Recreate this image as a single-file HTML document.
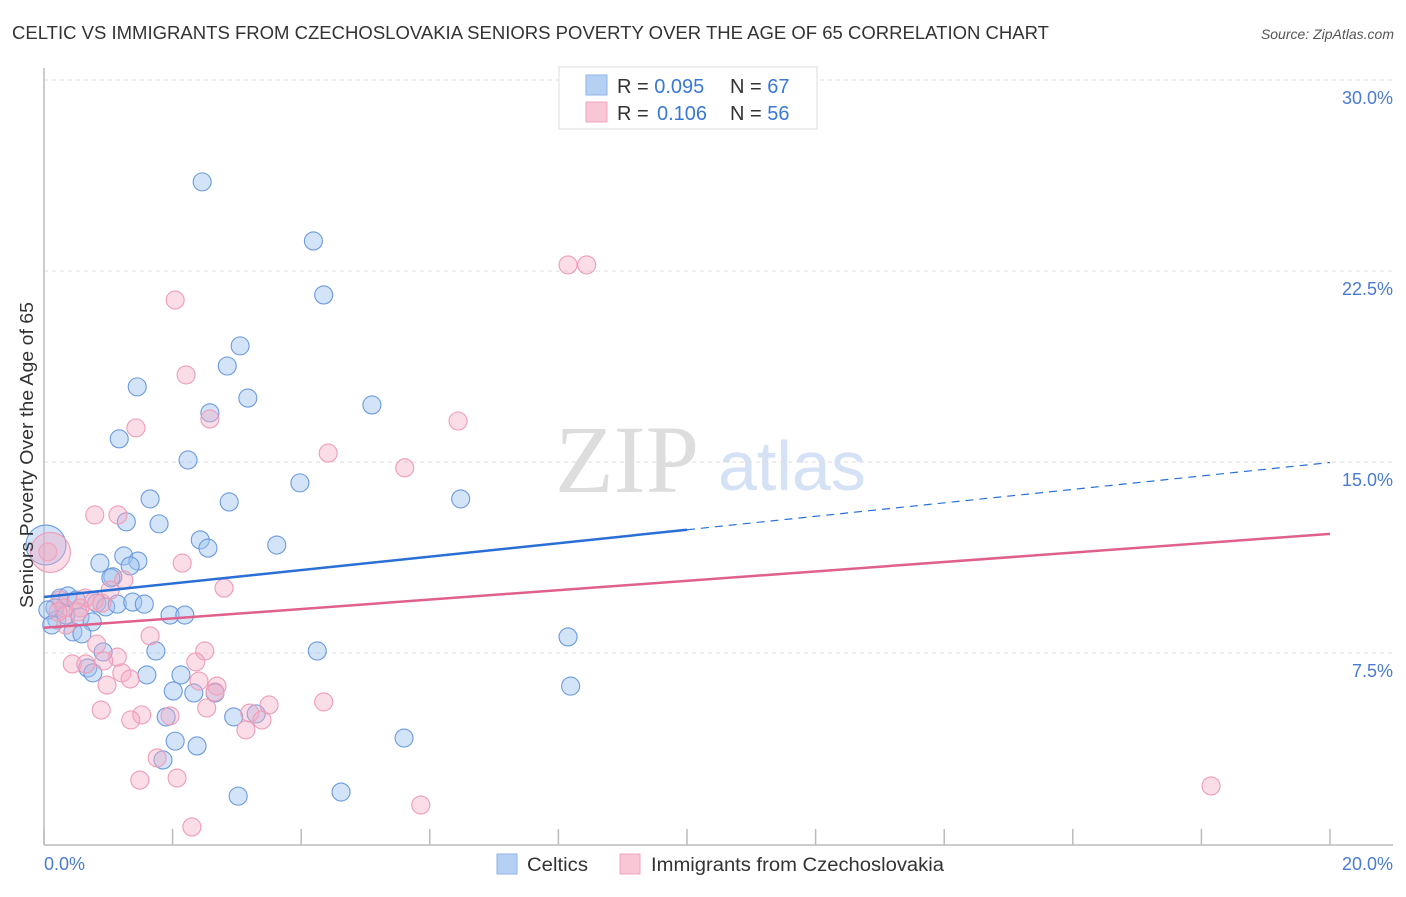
<!DOCTYPE html>
<html><head><meta charset="utf-8"><style>
body{margin:0;background:#fff;font-family:"Liberation Sans",sans-serif}
</style></head><body>
<svg width="1406" height="892" viewBox="0 0 1406 892" xmlns="http://www.w3.org/2000/svg" id="chart">
<text x="12" y="39" font-size="18" fill="#333" textLength="1037" lengthAdjust="spacingAndGlyphs">CELTIC VS IMMIGRANTS FROM CZECHOSLOVAKIA SENIORS POVERTY OVER THE AGE OF 65 CORRELATION CHART</text>
<text x="1394" y="39" font-size="14" fill="#555" font-style="italic" text-anchor="end">Source: ZipAtlas.com</text>
<text x="555" y="492" font-size="96" fill="#ddd" font-family="Liberation Serif">ZIP</text>
<text x="718" y="490" font-size="70" fill="#d5e2f5">atlas</text>
<g id="grid"></g>
<g id="axes"></g>
<g id="pts"></g>
<g id="trend"></g>
<text x="33" y="455" font-size="18" fill="#333" text-anchor="middle" textLength="306" lengthAdjust="spacingAndGlyphs" transform="rotate(-90 33 455)">Seniors Poverty Over the Age of 65</text>
<g>
<rect x="559" y="67" width="258" height="62" fill="#fff" stroke="#ddd"/>
<rect x="586" y="75" width="21" height="20" fill="#b6d0f3" stroke="#8fb2e6"/>
<rect x="586" y="102" width="21" height="20" fill="#f9c6d6" stroke="#eea3bc"/>
<text x="617" y="93" font-size="20" fill="#333">R = <tspan fill="#3a78d6">0.095</tspan><tspan x="730">N = </tspan><tspan fill="#3a78d6">67</tspan></text>
<text x="617" y="120" font-size="20" fill="#333">R = <tspan fill="#3a78d6" x="657">0.106</tspan><tspan x="730">N = </tspan><tspan fill="#3a78d6">56</tspan></text>
</g>
<g>
<rect x="497" y="854" width="20" height="20" fill="#b6d0f3" stroke="#8fb2e6"/>
<text x="527" y="871" font-size="19" fill="#333" textLength="61" lengthAdjust="spacingAndGlyphs">Celtics</text>
<rect x="620" y="854" width="20" height="20" fill="#f9c6d6" stroke="#eea3bc"/>
<text x="651" y="871" font-size="19" fill="#333" textLength="293" lengthAdjust="spacingAndGlyphs">Immigrants from Czechoslovakia</text>
</g>
</svg>
<script>
const blueX=[2.46,4.19,4.35,3.05,2.85,1.45,3.17,5.10,2.58,1.17,2.24,3.98,1.65,2.88,6.48,1.28,1.79,2.43,2.55,3.62,0.87,1.24,1.46,1.34,1.07,1.04,0.25,0.37,0.50,0.82,0.96,1.14,1.38,1.56,1.96,2.19,0.17,0.20,0.34,0.56,0.75,0.45,0.59,0.92,0.68,0.76,1.60,1.74,2.13,2.01,2.33,2.66,8.15,4.25,8.19,2.95,3.30,1.90,5.60,2.04,2.38,1.85,3.02,4.62,0.06,0.12,0.03];
const blueY=[26.0,23.68,21.56,19.56,18.77,17.95,17.51,17.24,16.93,15.91,15.08,14.18,13.55,13.43,13.55,12.65,12.57,11.94,11.62,11.74,11.03,11.31,11.11,10.92,10.49,10.45,9.66,9.74,9.58,9.46,9.31,9.42,9.50,9.42,8.99,8.99,9.27,8.80,8.99,8.91,8.72,8.33,8.25,7.54,6.91,6.72,6.64,7.58,6.64,6.01,5.93,5.93,8.13,7.58,6.20,4.99,5.11,4.99,4.16,4.04,3.85,3.30,1.88,2.04,9.19,8.60,11.74];
const blueBig=[66];
const pinkX=[2.04,2.21,2.58,1.43,6.44,4.42,5.61,8.15,8.44,0.79,1.15,1.24,2.15,2.80,0.06,0.25,0.64,0.78,0.90,0.56,1.65,0.82,0.44,0.65,1.14,0.93,1.21,1.34,0.98,2.50,2.36,2.41,2.69,2.66,0.89,1.52,1.96,1.35,2.53,3.20,3.39,3.50,3.14,4.35,1.76,1.49,2.07,2.30,5.86,18.15,0.34,0.53,0.31,1.03,0.22,0.10];
const pinkY=[21.36,18.42,16.69,16.34,16.61,15.35,14.77,22.74,22.74,12.92,12.92,10.37,11.03,10.05,11.47,9.58,9.66,9.54,9.46,9.27,8.17,7.85,7.07,7.07,7.34,7.19,6.72,6.48,6.24,7.58,7.15,6.40,6.20,5.97,5.26,5.07,5.03,4.87,5.34,5.14,4.87,5.46,4.48,5.58,3.38,2.51,2.59,0.67,1.53,2.28,8.60,9.11,9.27,9.97,9.11,11.45];
const pinkBig=[55];
const yTicks=[7.5,15,22.5,30];
const yTickLabels=["7.5%","15.0%","22.5%","30.0%"];
const xTicks=[0,2,4,6,8,10,12,14,16,18,20];
const blueTrend=[9.7,0.2640];
const pinkTrend=[8.49,0.1845];
const NS="http://www.w3.org/2000/svg";
const X=v=>44+v/20*1286, Y=v=>844-v/7.5*191;
function mk(tag,at,parent){const e=document.createElementNS(NS,tag);for(const k in at)e.setAttribute(k,at[k]);document.getElementById(parent).appendChild(e);return e;}
yTicks.forEach((t,i)=>{
 const l=mk('line',{x1:44,x2:1393,y1:Y(t),y2:Y(t),stroke:'#ddd','stroke-dasharray':'4,4'},'grid');
 
 
 const tx=mk('text',{x:1393,y:Y(t)+24,'font-size':18,fill:'#4a7bd0','text-anchor':'end'},'grid');
 tx.textContent=yTickLabels[i];
 
 
});
mk('line',{x1:44,x2:44,y1:68,y2:845,stroke:'#bbb','stroke-width':1.5},'axes');
mk('line',{x1:44,x2:1393,y1:845,y2:845,stroke:'#bbb','stroke-width':1.5},'axes');
xTicks.forEach(t=>{const l=mk('line',{x1:X(t),x2:X(t),y1:829,y2:845,stroke:'#bbb','stroke-width':1.5},'axes');
 
 });
const x0=mk('text',{x:44,y:870,'font-size':18,fill:'#4a7bd0'},'axes');x0.textContent="0.0%";


const x1=mk('text',{x:1393,y:870,'font-size':18,fill:'#4a7bd0','text-anchor':'end'},'axes');x1.textContent="20.0%";


function pts(xs,ys,big,fill,stroke,name){xs.forEach((v,i)=>{
 const c=mk('circle',{cx:X(v),cy:Y(ys[i]),r:big.includes(i)?20:9,fill:fill,stroke:stroke,'stroke-width':1.1},'pts');
 
 });}
pts(blueX,blueY,blueBig,'rgba(160,196,240,0.45)','#6a9ade','celtics-point');
pts(pinkX,pinkY,pinkBig,'rgba(245,170,196,0.4)','#ee9cb8','immigrants-point');
const bs=mk('line',{x1:X(0),y1:Y(blueTrend[0]),x2:X(10),y2:Y(blueTrend[0]+blueTrend[1]*10),stroke:'#2a6fd6','stroke-width':2.5},'trend');


const bd=mk('line',{x1:X(10),y1:Y(blueTrend[0]+blueTrend[1]*10),x2:X(20),y2:Y(blueTrend[0]+blueTrend[1]*20),stroke:'#2a6fd6','stroke-width':1.2,'stroke-dasharray':'8,6'},'trend');


const pl=mk('line',{x1:X(0),y1:Y(pinkTrend[0]),x2:X(20),y2:Y(pinkTrend[0]+pinkTrend[1]*20),stroke:'#e0608c','stroke-width':2.5},'trend');


</script>
</body></html>
